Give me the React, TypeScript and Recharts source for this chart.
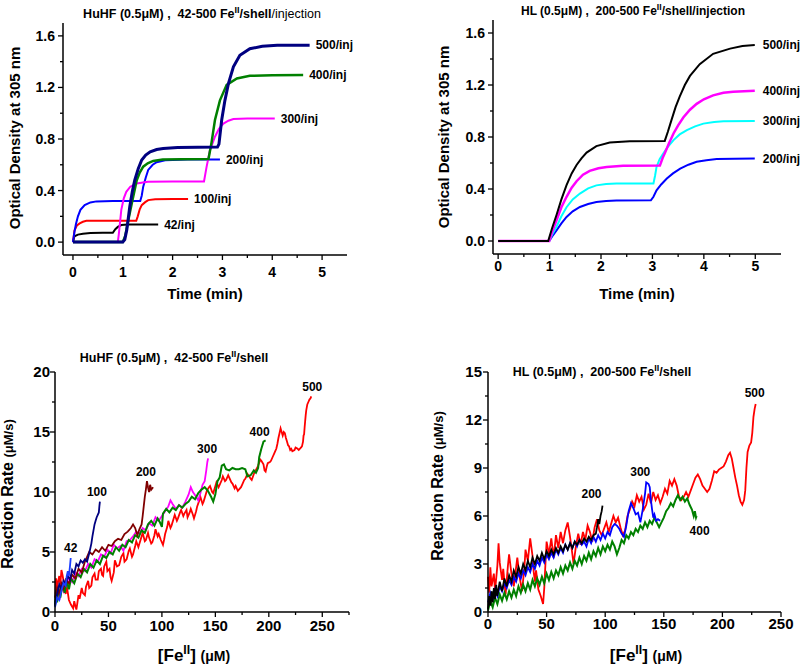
import React from "react";
import { LineChart, Line, XAxis, YAxis } from "recharts";

type Pt = [number, number];
const FONT = '"Liberation Sans", Arial, Helvetica, sans-serif';

// ---------- top left: HuHF, OD 305 nm vs time (min) ----------
const huhf42: Pt[] = [[0, 0], [0.03, 0.045], [0.1, 0.058], [0.2, 0.065], [0.35, 0.07], [0.6, 0.072], [0.8, 0.072], [0.85, 0.1], [0.9, 0.118], [0.97, 0.132], [1.1, 0.136], [1.4, 0.137], [1.71, 0.137]];
const huhf100: Pt[] = [[0, 0], [0.03, 0.09], [0.08, 0.13], [0.135, 0.145], [0.2, 0.158], [0.27, 0.165], [0.6, 0.166], [1.27, 0.166], [1.3, 0.2], [1.34, 0.255], [1.38, 0.287], [1.45, 0.31], [1.51, 0.326], [1.65, 0.333], [2.0, 0.334], [2.31, 0.334]];
const huhf200: Pt[] = [[0, 0], [0.03, 0.08], [0.06, 0.14], [0.1, 0.2], [0.15, 0.25], [0.235, 0.287], [0.35, 0.308], [0.47, 0.316], [0.8, 0.318], [1.35, 0.318], [1.38, 0.36], [1.41, 0.43], [1.46, 0.5], [1.51, 0.56], [1.6, 0.6], [1.68, 0.62], [1.85, 0.635], [2.3, 0.64], [2.95, 0.64]];
const huhf300: Pt[] = [[0, 0], [0.5, 0], [0.9, 0], [0.92, 0.06], [0.97, 0.25], [1.02, 0.34], [1.07, 0.39], [1.15, 0.43], [1.28, 0.455], [1.5, 0.468], [2.0, 0.47], [2.63, 0.47], [2.68, 0.58], [2.75, 0.714], [2.85, 0.818], [2.93, 0.88], [3.02, 0.92], [3.12, 0.942], [3.22, 0.955], [3.5, 0.96], [4.05, 0.96]];
const huhf400: Pt[] = [[0, 0], [0.5, 0], [1.0, 0], [1.05, 0.05], [1.11, 0.17], [1.18, 0.3], [1.28, 0.48], [1.34, 0.54], [1.41, 0.585], [1.5, 0.612], [1.61, 0.63], [1.8, 0.64], [2.2, 0.642], [2.72, 0.645], [2.78, 0.77], [2.85, 0.947], [2.95, 1.1], [3.085, 1.22], [3.29, 1.27], [3.55, 1.29], [4.0, 1.295], [4.62, 1.296]];
const huhf500: Pt[] = [[0, 0], [0.5, 0], [1.0, 0], [1.04, 0.02], [1.08, 0.094], [1.14, 0.275], [1.19, 0.39], [1.24, 0.48], [1.31, 0.57], [1.38, 0.637], [1.46, 0.675], [1.55, 0.7], [1.68, 0.718], [1.81, 0.727], [2.1, 0.734], [2.5, 0.736], [2.9, 0.737], [2.93, 0.76], [2.985, 0.947], [3.05, 1.1], [3.12, 1.23], [3.22, 1.36], [3.35, 1.45], [3.55, 1.5], [3.8, 1.52], [4.1, 1.527], [4.75, 1.528]];

// ---------- top right: HL, OD 305 nm vs time (min) ----------
const hl200: Pt[] = [[0, 0], [0.5, 0], [0.993, 0], [1.05, 0.035], [1.135, 0.082], [1.23, 0.135], [1.33, 0.185], [1.45, 0.228], [1.59, 0.262], [1.75, 0.285], [1.91, 0.3], [2.1, 0.308], [2.3, 0.311], [2.97, 0.313], [3.02, 0.34], [3.08, 0.39], [3.17, 0.435], [3.28, 0.48], [3.4, 0.52], [3.54, 0.557], [3.7, 0.587], [3.86, 0.609], [4.05, 0.622], [4.25, 0.63], [4.6, 0.633], [4.99, 0.634]];
const hl300: Pt[] = [[0, 0], [0.5, 0], [0.993, 0], [1.05, 0.05], [1.135, 0.11], [1.23, 0.19], [1.33, 0.26], [1.45, 0.32], [1.59, 0.365], [1.75, 0.405], [1.91, 0.428], [2.1, 0.438], [2.3, 0.442], [3.02, 0.442], [3.05, 0.5], [3.08, 0.57], [3.14, 0.63], [3.21, 0.673], [3.3, 0.725], [3.41, 0.776], [3.53, 0.82], [3.67, 0.853], [3.83, 0.882], [3.99, 0.903], [4.2, 0.915], [4.38, 0.921], [4.99, 0.924]];
const hl400: Pt[] = [[0, 0], [0.5, 0], [0.993, 0], [1.05, 0.07], [1.135, 0.16], [1.23, 0.26], [1.33, 0.34], [1.43, 0.41], [1.525, 0.46], [1.65, 0.51], [1.78, 0.54], [1.95, 0.56], [2.11, 0.57], [2.43, 0.578], [3.145, 0.58], [3.2, 0.64], [3.24, 0.675], [3.32, 0.75], [3.41, 0.827], [3.5, 0.89], [3.6, 0.95], [3.73, 1.01], [3.86, 1.055], [4.0, 1.09], [4.18, 1.12], [4.38, 1.14], [4.57, 1.148], [4.99, 1.156]];
const hl500: Pt[] = [[0, 0], [0.5, 0], [0.973, 0], [1.05, 0.1], [1.135, 0.2], [1.23, 0.32], [1.33, 0.43], [1.43, 0.52], [1.525, 0.585], [1.62, 0.635], [1.72, 0.68], [1.91, 0.73], [2.17, 0.757], [2.56, 0.768], [3.24, 0.77], [3.3, 0.84], [3.37, 0.93], [3.45, 1.03], [3.53, 1.11], [3.63, 1.2], [3.73, 1.27], [3.92, 1.36], [4.18, 1.44], [4.51, 1.48], [4.75, 1.5], [4.99, 1.507]];

// ---------- bottom left: HuHF, rate vs [Fe(II)] ----------
const huhfRate42: Pt[] = [[0, 0.4], [2, 1.2], [4, 1.0], [6, 1.8], [8, 2.4], [10, 2.2], [11, 3.0], [12, 3.4], [13, 3.0], [14, 3.8], [14.7, 4.5]];
const huhfRate100: Pt[] = [[0, 0.6], [2, 1.5], [4, 2.3], [6, 1.9], [8, 2.6], [10, 2.3], [12, 3.0], [14, 2.7], [16, 3.5], [18, 3.2], [20, 4.0], [22, 3.8], [24, 4.3], [26, 4.1], [28, 4.4], [30, 4.2], [32, 4.9], [34, 5.7], [35, 6.3], [36, 6.8], [37, 7.3], [38, 7.6], [39, 7.9], [40, 8.1], [41, 8.3], [41.5, 8.8], [42, 9.2]];
const huhfRate200: Pt[] = [[0, 1.2], [2, 2.0], [4, 1.5], [6, 2.4], [8, 2.0], [10, 2.7], [13, 2.4], [16, 3.1], [19, 2.8], [22, 3.6], [25, 3.3], [28, 4.2], [30, 4.6], [32, 5.0], [35, 4.8], [38, 5.2], [41, 5.0], [44, 5.4], [47, 5.1], [50, 5.6], [53, 5.5], [56, 5.9], [59, 6.1], [62, 6.0], [65, 6.5], [68, 6.7], [71, 7.0], [73, 7.3], [75, 7.0], [77, 6.4], [79, 6.9], [81, 7.3], [82, 8.0], [83, 8.8], [84, 9.6], [85, 10.2], [86, 10.9], [87, 10.4], [88, 10.0], [89, 10.6], [90, 10.2], [91.8, 10.4]];
const huhfRate300: Pt[] = [[0, 0.8], [2, 1.6], [4, 1.0], [6, 2.2], [8, 1.7], [10, 2.1], [13, 2.9], [16, 2.5], [19, 3.3], [22, 3.0], [25, 3.6], [28, 3.4], [31, 4.0], [34, 3.7], [37, 4.4], [40, 4.2], [43, 4.8], [46, 4.6], [49, 5.2], [52, 4.9], [55, 5.6], [58, 5.3], [61, 5.5], [64, 5.1], [67, 5.9], [70, 6.0], [73, 6.3], [76, 6.7], [79, 6.5], [82, 7.0], [85, 6.8], [88, 7.4], [91, 7.2], [94, 7.9], [97, 7.6], [100, 8.0], [103, 8.4], [106, 8.8], [108, 9.3], [110, 9.0], [113, 8.6], [116, 8.9], [119, 8.7], [122, 9.2], [125, 9.8], [127, 10.4], [129, 10.0], [132, 9.6], [134, 9.3], [136, 9.9], [138, 10.6], [140, 10.9], [141.5, 11.8], [142.5, 12.5], [143.2, 12.8]];
const huhfRate400: Pt[] = [[0, 0.5], [1, 1.8], [2, 0.8], [3, 2.0], [5, 1.2], [7, 2.3], [9, 1.6], [11, 2.6], [13, 1.9], [15, 2.8], [18, 2.4], [21, 3.2], [24, 2.9], [27, 3.6], [30, 3.3], [33, 4.0], [36, 3.7], [39, 4.3], [42, 4.0], [45, 4.7], [48, 4.5], [51, 5.0], [54, 4.8], [57, 5.4], [60, 5.1], [63, 5.6], [66, 5.4], [69, 6.0], [72, 5.8], [75, 6.4], [78, 6.2], [81, 6.8], [84, 6.6], [87, 7.3], [90, 7.6], [93, 7.2], [96, 7.8], [98, 7.5], [100, 7.1], [101, 8.2], [104, 8.6], [107, 8.3], [110, 8.7], [113, 8.5], [116, 8.9], [119, 8.7], [122, 9.0], [125, 9.2], [128, 9.6], [131, 9.4], [134, 9.9], [137, 10.2], [140, 10.4], [143, 10.1], [146, 9.6], [148, 9.2], [150, 9.8], [152, 10.9], [154, 11.2], [156, 12.2], [158, 12.3], [160, 11.9], [163, 11.8], [166, 12.0], [169, 11.9], [172, 11.9], [175, 12.0], [178, 11.9], [180, 11.3], [183, 11.4], [186, 11.8], [188, 11.6], [190, 12.0], [191, 12.9], [193, 13.6], [195, 14.2], [197, 14.3]];
const huhfRate500: Pt[] = [[0.5, 1.5], [1, 2.8], [2, 2.0], [3, 2.6], [4, 3.0], [5, 2.3], [6, 3.5], [7, 3.1], [8, 2.6], [9, 1.9], [10, 1.5], [11, 2.2], [12, 1.6], [13, 1.0], [15, 0.6], [17, 0.3], [18, 0.9], [19, 0.5], [20, 0.2], [21, 0.8], [22, 1.4], [23, 1.1], [25, 2.0], [26, 1.6], [28, 1.4], [29, 2.1], [31, 2.6], [32, 2.0], [34, 2.2], [35, 2.9], [37, 3.2], [38, 2.7], [40, 2.7], [41, 3.4], [43, 3.6], [44, 3.1], [45, 3.0], [46, 3.8], [48, 4.2], [49, 3.4], [51, 3.6], [52, 2.9], [53, 2.6], [55, 3.3], [56, 4.3], [58, 3.8], [60, 3.9], [62, 4.6], [64, 4.9], [65, 4.2], [67, 4.4], [69, 5.1], [70, 5.3], [72, 4.6], [73, 4.8], [75, 5.5], [76, 5.9], [78, 5.4], [79, 5.7], [81, 6.3], [82, 6.6], [84, 5.9], [85, 6.0], [87, 6.6], [88, 6.2], [90, 5.7], [91, 5.8], [93, 6.4], [94, 6.9], [96, 6.3], [97, 6.5], [99, 6.0], [101, 5.6], [102, 6.0], [103, 6.5], [105, 7.1], [106, 7.6], [108, 7.0], [109, 7.2], [111, 7.8], [112, 8.1], [114, 7.6], [115, 7.8], [117, 8.3], [118, 8.5], [120, 8.0], [121, 8.2], [123, 8.5], [124, 7.9], [126, 8.3], [127, 8.6], [129, 8.1], [130, 7.8], [132, 8.4], [133, 8.8], [135, 9.3], [136, 9.6], [138, 9.0], [139, 9.2], [141, 9.8], [142, 10.1], [144, 10.4], [145, 10.5], [147, 10.0], [148, 9.9], [150, 10.5], [151, 10.8], [153, 10.4], [154, 10.6], [156, 11.0], [157, 11.3], [159, 10.9], [160, 11.0], [162, 11.4], [163, 11.2], [165, 10.8], [166, 10.7], [168, 10.3], [169, 10.5], [171, 10.1], [172, 10.2], [174, 10.4], [175, 10.6], [177, 11.0], [178, 11.1], [180, 11.5], [181, 11.4], [183, 11.1], [184, 11.0], [186, 11.5], [187, 11.7], [189, 12.0], [190, 12.2], [192, 12.7], [193, 12.6], [195, 12.3], [196, 11.8], [197, 11.7], [198, 12.1], [199, 12.4], [201, 12.5], [202, 12.6], [204, 13.0], [205, 13.2], [206, 13.4], [207, 13.6], [208, 14.0], [209, 14.5], [210, 14.9], [211, 15.3], [212, 15.0], [213, 14.7], [214, 15.0], [215, 14.9], [216, 14.5], [217, 14.2], [218, 13.9], [219, 13.8], [220, 13.5], [221, 13.6], [222, 13.4], [224, 13.5], [225, 13.7], [227, 13.6], [228, 13.5], [230, 13.7], [231, 13.8], [232, 14.2], [232.5, 14.7], [233, 14.8], [233.5, 15.4], [234, 15.9], [234.5, 16.4], [235, 16.8], [236, 17.3], [237, 17.5], [238, 17.7], [239, 17.8], [239.7, 17.97]];

// ---------- bottom right: HL, rate vs [Fe(II)] ----------
const hlRate200: Pt[] = [[0, 0.2], [1, 1.0], [2, 0.4], [3, 1.3], [4, 0.6], [5, 1.5], [6, 0.8], [7, 1.7], [8, 1.0], [10, 1.9], [12, 1.3], [14, 2.1], [16, 1.6], [18, 2.3], [20, 1.9], [22, 2.6], [24, 2.2], [26, 2.8], [28, 2.4], [30, 3.0], [32, 2.6], [34, 3.2], [36, 2.8], [38, 3.4], [40, 3.0], [42, 3.5], [44, 3.2], [46, 3.7], [48, 3.3], [50, 3.8], [52, 3.5], [54, 3.9], [56, 3.6], [58, 4.0], [60, 3.7], [62, 4.1], [64, 3.8], [66, 4.2], [68, 3.9], [70, 4.3], [72, 4.0], [74, 4.4], [76, 4.2], [78, 4.5], [80, 4.3], [82, 4.6], [84, 4.4], [86, 4.7], [88, 4.5], [90, 4.8], [92, 4.9], [93, 5.3], [94, 5.8], [95, 5.5], [96, 6.0], [97, 6.3], [97.7, 6.65]];
const hlRate300: Pt[] = [[0, 0.6], [2, 1.2], [4, 0.8], [6, 1.4], [8, 1.0], [10, 1.6], [12, 1.3], [14, 1.8], [16, 1.5], [18, 2.0], [20, 1.7], [22, 2.2], [24, 1.9], [26, 2.4], [28, 2.1], [30, 2.6], [32, 2.3], [34, 2.8], [36, 2.5], [38, 3.0], [40, 2.7], [42, 3.2], [44, 2.9], [46, 3.4], [48, 3.1], [50, 3.6], [52, 3.3], [54, 3.7], [56, 3.4], [58, 3.9], [60, 3.6], [62, 4.0], [64, 3.7], [66, 4.2], [68, 3.9], [70, 4.3], [72, 4.0], [74, 4.4], [76, 4.1], [78, 4.5], [80, 4.2], [82, 4.4], [84, 4.1], [86, 4.6], [88, 4.3], [90, 4.7], [92, 4.4], [94, 4.8], [96, 4.5], [98, 4.9], [100, 4.6], [102, 5.0], [104, 4.8], [106, 5.3], [108, 5.5], [110, 5.4], [112, 5.2], [114, 4.9], [116, 4.7], [118, 5.4], [120, 6.3], [122, 6.8], [124, 6.5], [126, 6.1], [128, 6.2], [130, 5.6], [132, 6.4], [134, 7.4], [135, 8.1], [137, 8.0], [138, 7.8], [139, 7.0], [140, 6.4], [141, 5.9], [142, 6.1], [143.5, 5.7], [145, 5.8], [146.9, 5.7]];
const hlRate400: Pt[] = [[0, 0.1], [2, 0.7], [4, 0.3], [6, 0.9], [8, 0.5], [10, 1.1], [12, 0.7], [14, 1.2], [16, 0.8], [18, 1.3], [20, 0.9], [22, 1.4], [24, 1.0], [26, 1.6], [28, 1.2], [30, 1.7], [32, 1.3], [34, 1.8], [36, 1.4], [38, 2.0], [40, 1.6], [42, 2.1], [44, 1.7], [46, 2.2], [48, 1.8], [50, 2.4], [52, 2.0], [54, 2.5], [56, 2.1], [58, 2.6], [60, 2.3], [62, 2.8], [64, 2.4], [66, 2.9], [68, 2.6], [70, 3.1], [72, 2.7], [74, 3.2], [76, 2.9], [78, 3.4], [80, 3.0], [82, 3.5], [84, 3.2], [86, 3.7], [88, 3.3], [90, 3.8], [92, 3.5], [94, 4.0], [96, 3.6], [98, 4.1], [100, 3.8], [102, 4.2], [104, 3.9], [106, 4.4], [108, 4.1], [110, 3.6], [112, 4.0], [114, 4.5], [116, 4.3], [118, 4.8], [120, 4.6], [122, 5.0], [124, 4.8], [126, 5.2], [128, 5.0], [130, 5.4], [132, 5.2], [134, 5.6], [136, 5.3], [138, 5.7], [140, 5.5], [142, 5.9], [144, 5.6], [146, 5.3], [148, 5.6], [150, 5.9], [152, 6.3], [154, 6.5], [156, 6.8], [158, 6.6], [160, 7.0], [162, 7.3], [164, 7.0], [166, 7.2], [168, 6.9], [170, 7.1], [172, 6.7], [174, 6.4], [175.5, 6.0], [176.5, 6.3], [177.5, 5.9], [178, 6.0]];
const hlRate500: Pt[] = [[0, 2.2], [1, 1.2], [2, 2.8], [3, 1.6], [5, 2.4], [6, 1.3], [8, 2.9], [9, 4.3], [10, 3.1], [12, 2.0], [13, 2.7], [15, 1.1], [17, 2.9], [18, 3.6], [20, 2.4], [22, 1.6], [24, 2.8], [25, 3.4], [27, 2.2], [29, 1.3], [31, 2.7], [32, 3.9], [34, 3.2], [36, 4.6], [38, 3.5], [39, 2.5], [40, 1.9], [41, 2.6], [43, 1.4], [45, 1.0], [47, 0.5], [48, 1.5], [49, 3.0], [50, 4.4], [52, 3.6], [54, 4.6], [56, 3.4], [58, 4.8], [60, 4.0], [62, 5.0], [64, 4.3], [66, 5.1], [68, 5.6], [70, 4.7], [72, 3.6], [73, 3.0], [75, 4.1], [77, 4.9], [79, 4.2], [81, 5.0], [83, 4.5], [85, 5.4], [87, 5.0], [89, 4.4], [91, 5.3], [93, 5.8], [95, 5.1], [97, 4.8], [99, 5.2], [101, 5.6], [103, 5.0], [105, 5.5], [107, 6.0], [109, 5.6], [111, 5.9], [113, 5.3], [115, 4.8], [117, 5.1], [119, 6.0], [121, 6.4], [123, 6.9], [125, 6.6], [127, 7.3], [129, 6.9], [131, 7.2], [133, 6.4], [135, 6.7], [137, 7.4], [139, 6.8], [141, 7.5], [143, 7.0], [145, 7.3], [147, 6.8], [149, 7.2], [151, 7.7], [153, 7.4], [155, 8.2], [157, 7.9], [159, 8.3], [161, 7.9], [163, 7.2], [165, 7.0], [167, 7.2], [169, 7.5], [171, 7.2], [173, 7.6], [175, 8.0], [177, 8.4], [179, 8.6], [181, 8.3], [183, 7.9], [185, 7.7], [187, 7.5], [189, 7.7], [191, 8.2], [193, 8.8], [195, 8.7], [197, 8.9], [199, 9.0], [201, 9.1], [203, 9.4], [205, 9.8], [206.5, 9.95], [208, 9.6], [209.5, 9.0], [211, 8.4], [212.5, 7.9], [214, 7.3], [215.5, 6.9], [217, 6.7], [218.5, 7.0], [219.5, 7.6], [220.5, 9.0], [221.5, 10.0], [223, 10.4], [224.5, 10.6], [225.5, 11.2], [226.5, 12.2], [227.5, 12.7], [228.4, 13.0]];

// ---------- axis ticks ----------
const timeTicks = [0, 0.5, 1, 1.5, 2, 2.5, 3, 3.5, 4, 4.5, 5];
const timeMajor = [0, 1, 2, 3, 4, 5];
const odTicks = [0, 0.2, 0.4, 0.6, 0.8, 1.0, 1.2, 1.4, 1.6];
const odMajor = [0, 0.4, 0.8, 1.2, 1.6];
const feTicksHuhf = [0, 25, 50, 75, 100, 125, 150, 175, 200, 225, 250, 275];
const feTicksHl = [0, 25, 50, 75, 100, 125, 150, 175, 200, 225, 250];
const feMajor = [0, 50, 100, 150, 200, 250];
const rateTicksHuhf = [0, 2.5, 5, 7.5, 10, 12.5, 15, 17.5, 20];
const rateMajorHuhf = [0, 5, 10, 15, 20];
const rateTicksHl = [0, 1.5, 3, 4.5, 6, 7.5, 9, 10.5, 12, 13.5, 15];
const rateMajorHl = [0, 3, 6, 9, 12, 15];

type Series = { pts: Pt[]; color: string; width: number; label: string; at: "end" | "max"; dx: number; dy: number; anchor: "start" | "middle" };

const isMajor = (list: number[], v: number) => list.some((m) => Math.abs(m - v) < 1e-6);

const xTick = (major: number[], fs: number, gap: number) => (p: any) => {
  const v = p.payload.value;
  const big = isMajor(major, v);
  return (
    <g>
      <line x1={p.x} y1={p.y} x2={p.x} y2={p.y + (big ? 5 : 3)} stroke="#000" strokeWidth={1.3} />
      {big && (
        <text x={p.x} y={p.y + gap + fs * 0.72} textAnchor="middle" fontSize={fs} fontWeight="bold" fontFamily={FONT} fill="#000">
          {v}
        </text>
      )}
    </g>
  );
};

const yTick = (major: number[], fs: number, gap: number, fmt: (v: number) => string) => (p: any) => {
  const v = p.payload.value;
  const big = isMajor(major, v);
  return (
    <g>
      <line x1={p.x} y1={p.y} x2={p.x - (big ? 5 : 3)} y2={p.y} stroke="#000" strokeWidth={1.3} />
      {big && (
        <text x={p.x - gap} y={p.y + fs * 0.36} textAnchor="end" fontSize={fs} fontWeight="bold" fontFamily={FONT} fill="#000">
          {fmt(v)}
        </text>
      )}
    </g>
  );
};

const labelDot = (s: Series, fs: number) => {
  const idx = s.at === "end" ? s.pts.length - 1 : s.pts.reduce((bi, p, i, a) => (p[1] > a[bi][1] ? i : bi), 0);
  return (p: any) =>
    p.index === idx ? (
      <text key={`l${p.index}`} x={p.cx + s.dx} y={p.cy + s.dy + fs * 0.36} textAnchor={s.anchor} fontSize={fs} fontWeight="bold" fontFamily={FONT} fill="#000">
        {s.label}
      </text>
    ) : (
      <g key={`l${p.index}`} />
    );
};

type PanelProps = {
  left: number; top: number; width: number; height: number;
  margin: { top: number; right: number; bottom: number; left: number };
  xDomain: [number, number]; yDomain: [number, number];
  xTicks: number[]; xMajor: number[]; yTicks: number[]; yMajor: number[];
  yFmt: (v: number) => string;
  tickFs: number; xGap: number; yGap: number; labelFs: number;
  series: Series[];
};

// axis band sizes; margins below are the plot edge minus these
const YW = 40;
const XH = 30;

const Panel: React.FC<PanelProps> = (p) => (
  <div style={{ position: "absolute", left: p.left, top: p.top }}>
    <LineChart width={p.width} height={p.height}
      margin={{ top: p.margin.top, right: p.margin.right, bottom: p.margin.bottom - XH, left: p.margin.left - YW }}>
      <XAxis dataKey="x" type="number" domain={p.xDomain} ticks={p.xTicks} interval={0} height={XH} tickSize={0} tickMargin={0}
        tickLine={false} axisLine={{ stroke: "#000", strokeWidth: 1.5 }} tick={xTick(p.xMajor, p.tickFs, p.xGap)} />
      <YAxis type="number" domain={p.yDomain} ticks={p.yTicks} interval={0} width={YW} tickSize={0} tickMargin={0}
        tickLine={false} axisLine={{ stroke: "#000", strokeWidth: 1.5 }} tick={yTick(p.yMajor, p.tickFs, p.yGap, p.yFmt)} />
      {p.series.map((s, i) => (
        <Line key={i} data={s.pts.map(([x, y]) => ({ x, y }))} dataKey="y" type="linear" stroke={s.color} strokeWidth={s.width}
          dot={labelDot(s, p.labelFs)} activeDot={false} isAnimationActive={false} />
      ))}
    </LineChart>
  </div>
);

const T: React.FC<{ x: number; y: number; fs: number; rot?: boolean; children: React.ReactNode }> = ({ x, y, fs, rot, children }) => (
  <div style={{
    position: "absolute", left: x, top: y, transform: `translate(-50%, -50%)${rot ? " rotate(-90deg)" : ""}`,
    fontSize: fs, fontWeight: "bold", fontFamily: FONT, whiteSpace: "pre", lineHeight: 1, color: "#000",
  }}>
    {children}
  </div>
);

const Sup: React.FC<{ children: React.ReactNode }> = ({ children }) => (
  <span style={{ fontSize: "0.72em", position: "relative", top: "-0.55em" }}>{children}</span>
);

const od = (v: number) => v.toFixed(1);
const plain = (v: number) => String(v);

export default function App() {
  const tl: Series[] = [
    { pts: huhf42, color: "#000000", width: 2, label: "42/inj", at: "end", dx: 6, dy: 0, anchor: "start" },
    { pts: huhf100, color: "#ff0000", width: 2, label: "100/inj", at: "end", dx: 6, dy: 0, anchor: "start" },
    { pts: huhf200, color: "#0000ff", width: 2, label: "200/inj", at: "end", dx: 6, dy: 0, anchor: "start" },
    { pts: huhf300, color: "#ff00ff", width: 2, label: "300/inj", at: "end", dx: 6, dy: 0, anchor: "start" },
    { pts: huhf400, color: "#008000", width: 2.5, label: "400/inj", at: "end", dx: 6, dy: 0, anchor: "start" },
    { pts: huhf500, color: "#000080", width: 3, label: "500/inj", at: "end", dx: 6, dy: 0, anchor: "start" },
  ];
  const tr: Series[] = [
    { pts: hl200, color: "#0000ff", width: 2, label: "200/inj", at: "end", dx: 8, dy: 0, anchor: "start" },
    { pts: hl300, color: "#00ffff", width: 2, label: "300/inj", at: "end", dx: 8, dy: 0, anchor: "start" },
    { pts: hl400, color: "#ff00ff", width: 2.5, label: "400/inj", at: "end", dx: 8, dy: 0, anchor: "start" },
    { pts: hl500, color: "#000000", width: 2, label: "500/inj", at: "end", dx: 8, dy: 0, anchor: "start" },
  ];
  const bl: Series[] = [
    { pts: huhfRate500, color: "#ff0000", width: 1.8, label: "500", at: "end", dx: 1, dy: -10, anchor: "middle" },
    { pts: huhfRate300, color: "#ff00ff", width: 1.8, label: "300", at: "end", dx: -1, dy: -10, anchor: "middle" },
    { pts: huhfRate400, color: "#008000", width: 2, label: "400", at: "end", dx: -6, dy: -9, anchor: "middle" },
    { pts: huhfRate200, color: "#800000", width: 1.8, label: "200", at: "max", dx: -1, dy: -10, anchor: "middle" },
    { pts: huhfRate100, color: "#000080", width: 1.8, label: "100", at: "end", dx: -3, dy: -10, anchor: "middle" },
    { pts: huhfRate42, color: "#1a3cff", width: 1.8, label: "42", at: "end", dx: 0, dy: -10, anchor: "middle" },
  ];
  const br: Series[] = [
    { pts: hlRate500, color: "#ff0000", width: 1.8, label: "500", at: "end", dx: -1, dy: -11, anchor: "middle" },
    { pts: hlRate400, color: "#008000", width: 2, label: "400", at: "end", dx: 3, dy: 15, anchor: "middle" },
    { pts: hlRate300, color: "#0000ff", width: 1.8, label: "300", at: "max", dx: -6, dy: -11, anchor: "middle" },
    { pts: hlRate200, color: "#000000", width: 1.8, label: "200", at: "end", dx: -11, dy: -12, anchor: "middle" },
  ];

  return (
    <div style={{ position: "absolute", left: 0, top: 0, width: 800, height: 665, background: "#fff", overflow: "hidden" }}>
      <Panel left={0} top={0} width={400} height={320} margin={{ top: 23, right: 53, bottom: 65, left: 63 }}
        xDomain={[-0.2, 5.5]} yDomain={[-0.1, 1.7]} xTicks={timeTicks} xMajor={timeMajor} yTicks={odTicks} yMajor={odMajor}
        yFmt={od} tickFs={14} xGap={11.5} yGap={8} labelFs={12} series={tl} />
      <Panel left={400} top={0} width={400} height={320} margin={{ top: 20, right: 19, bottom: 66, left: 93 }}
        xDomain={[-0.1, 5.5]} yDomain={[-0.1, 1.7]} xTicks={timeTicks} xMajor={timeMajor} yTicks={odTicks} yMajor={odMajor}
        yFmt={od} tickFs={14} xGap={7} yGap={8} labelFs={12} series={tr} />
      <Panel left={0} top={330} width={400} height={335} margin={{ top: 42, right: 51, bottom: 53, left: 55 }}
        xDomain={[0, 275]} yDomain={[0, 20]} xTicks={feTicksHuhf} xMajor={feMajor} yTicks={rateTicksHuhf} yMajor={rateMajorHuhf}
        yFmt={plain} tickFs={15} xGap={8} yGap={5} labelFs={12} series={bl} />
      <Panel left={400} top={330} width={400} height={335} margin={{ top: 42, right: 19, bottom: 53, left: 88 }}
        xDomain={[0, 250]} yDomain={[0, 15]} xTicks={feTicksHl} xMajor={feMajor} yTicks={rateTicksHl} yMajor={rateMajorHl}
        yFmt={plain} tickFs={15} xGap={6} yGap={6} labelFs={12} series={br} />

      <T x={202} y={13.5} fs={12.5}>HuHF (0.5μM) ,  42-500 Fe<Sup>II</Sup>/shell<span style={{ fontWeight: "normal" }}>/injection</span></T>
      <T x={633} y={11} fs={12}>HL (0.5μM) ,  200-500 Fe<Sup>II</Sup>/shell/injection</T>
      <T x={174} y={358} fs={12.5}>HuHF (0.5μM) ,  42-500 Fe<Sup>II</Sup>/shell</T>
      <T x={602} y={372} fs={12.5}>HL (0.5μM) ,  200-500 Fe<Sup>II</Sup>/shell</T>

      <T x={13.5} y={138} fs={15} rot>Optical Density at 305 nm</T>
      <T x={442.5} y={137} fs={15} rot>Optical Density at 305 nm</T>
      <T x={205} y={293} fs={15}>Time (min)</T>
      <T x={637} y={293} fs={15}>Time (min)</T>

      <T x={7.5} y={494} fs={16} rot>Reaction Rate <span style={{ fontSize: 13 }}>(μM/s)</span></T>
      <T x={437.5} y={486} fs={16} rot>Reaction Rate <span style={{ fontSize: 13 }}>(μM/s)</span></T>
      <T x={194} y={655} fs={17}>[Fe<Sup>II</Sup>] <span style={{ fontSize: 14 }}>(μM)</span></T>
      <T x={646} y={655} fs={17}>[Fe<Sup>II</Sup>] <span style={{ fontSize: 14 }}>(μM)</span></T>
    </div>
  );
}
